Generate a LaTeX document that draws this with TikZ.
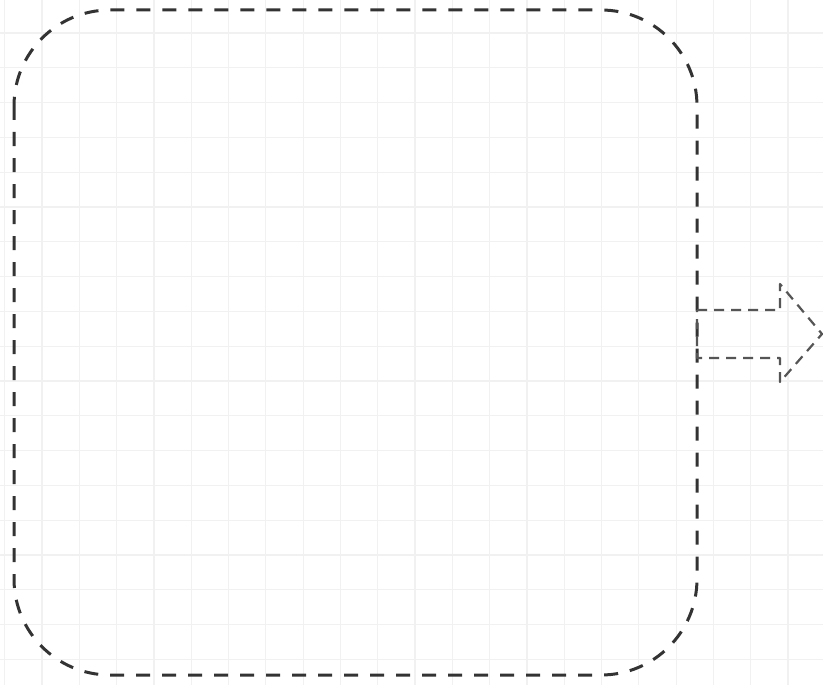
\documentclass[tikz,border=0pt]{standalone}
\usetikzlibrary{calc}
\definecolor{gridc}{HTML}{F1F1F1}
\definecolor{boxc}{HTML}{333333}
\definecolor{arrc}{HTML}{555555}
\tikzset{
  gridline/.style={gridc, line width=1.2pt},
  boxstyle/.style={draw=boxc, line width=3pt, dash pattern=on 14pt off 12pt, rounded corners=96pt},
  arrstyle/.style={draw=arrc, line width=2.2pt, dash pattern=on 10pt off 7pt, line join=round}
}
\begin{document}
\begin{tikzpicture}[x=1pt,y=-1pt]
\fill[white] (0,0) rectangle (823,685);
\useasboundingbox (0,0) rectangle (823,685);
% grid
\foreach \k in {-1,...,21} {
  \draw[gridline] ({42+37.3*\k},0) -- ({42+37.3*\k},685);
}
\foreach \k in {0,...,18} {
  \draw[gridline] (0,{33+34.8*\k}) -- (823,{33+34.8*\k});
}
% box
\coordinate (bnw) at (14,10);
\coordinate (bse) at (697,675);
\draw[boxstyle] (bnw) rectangle (bse);
% arrow
\coordinate (a1) at (697,310);
\coordinate (a2) at (780,310);
\coordinate (a3) at (780,284);
\coordinate (tip) at (822,334);
\coordinate (a5) at (780,382);
\coordinate (a6) at (780,358);
\coordinate (a7) at (697,358);
\draw[arrstyle] (a1) -- (a2) -- (a3) -- (tip) -- (a5) -- (a6) -- (a7) -- cycle;
\end{tikzpicture}
\end{document}
